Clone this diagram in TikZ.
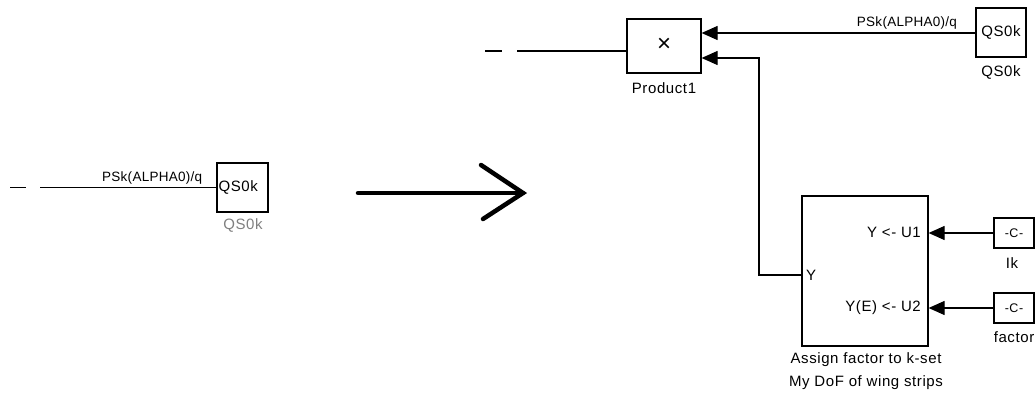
\documentclass[tikz,border=0pt]{standalone}
\usepackage{fontspec}
\setmainfont{Liberation Sans}
\newfontfamily\lblfont[LetterSpace=4]{Liberation Sans}
\newfontfamily\sigfont[LetterSpace=2]{Liberation Sans}
\usetikzlibrary{arrows.meta}
\tikzset{
  blk/.style={draw, line width=1.2pt, inner sep=0pt, font=\lblfont\fontsize{15}{17}\selectfont},
  lbl/.style={inner sep=0pt, font=\lblfont\fontsize{15}{17}\selectfont},
  sig/.style={inner sep=0pt, font=\sigfont\fontsize{13.5}{15}\selectfont},
  cst/.style={draw, line width=1.2pt, inner sep=0pt, font=\lblfont\fontsize{12.5}{14}\selectfont},
  wire/.style={line width=1.2pt},
  arr/.style={line width=1.2pt, -{Triangle[length=16pt,width=14pt]}},
  bigarrow/.style={line width=4.5pt, line cap=round, line join=miter}
}
\begin{document}
\begin{tikzpicture}[x=1pt,y=-1pt]
\useasboundingbox (0,0) rectangle (1036,393);
% ---- left: original block ----
\node[blk, minimum width=51pt, minimum height=49pt] (q0) at (242.5,187.5) {};
\node[lbl, anchor=west] (q0t) at ([xshift=2pt]q0.west) {QS0k};
\node[lbl, text=gray] (q0l) at (243,225) {QS0k};
\coordinate (d0a) at (10,187.5);
\coordinate (d0b) at (26,187.5);
\coordinate (l0) at (40,187.5);
\draw[wire] (d0a) -- (d0b);
\draw[wire] (l0) -- (q0.west) node[sig, midway, above=3pt, xshift=24pt] (p0) {PSk(ALPHA0)/q};
% ---- big arrow ----
\coordinate (ba) at (358,193);
\coordinate (bt) at (523,193);
\coordinate (bu) at (481,165);
\coordinate (bd) at (483,219);
\draw[bigarrow] (ba) -- (bt);
\draw[bigarrow] (bu) -- (bt) -- (bd);
% ---- right: product ----
\node[blk, minimum width=74pt, minimum height=54pt] (prod) at (664,46) {};
\node[inner sep=0pt, font=\fontsize{24}{26}\selectfont] (x) at (664,45) {×};
\node[lbl] (prodl) at (664,88) {Product1};
\coordinate (d1a) at (485,51);
\coordinate (d1b) at (502,51);
\coordinate (l1) at (517,51);
\draw[wire] (d1a) -- (d1b);
\draw[wire] (l1) -- (l1 -| prod.west);
% QS0k top right
\node[blk, minimum width=50pt, minimum height=49pt] (q1) at (1001,32.5) {QS0k};
\node[lbl] (q1l) at (1001,72) {QS0k};
\coordinate (p1in) at (prod.east |- 0,33);
\draw[arr] (q1.west |- 0,33) -- (p1in) node[sig, pos=0.25, above=3pt] (p1) {PSk(ALPHA0)/q};
% assign block
\node[blk, minimum width=126pt, minimum height=150pt] (asg) at (865,271) {};
\node[lbl, anchor=west] (asgy) at (806,275) {Y};
\node[lbl, anchor=east] (asgu1) at (921,232) {Y <- U1};
\node[lbl, anchor=east] (asgu2) at (921,308) {Y(E) <- U2};
\node[lbl] (asgl1) at (866,360) {Assign factor to k-set};
\node[lbl] (asgl2) at (866,383) {My DoF of wing strips};
\coordinate (yout) at (asg.west |- 0,275);
\coordinate (c1) at (759,275);
\coordinate (c2) at (759,58);
\draw[arr] (yout) -- (c1) -- (c2) -- (prod.east |- c2);
% constants
\node[cst, minimum width=40pt, minimum height=30pt] (ik) at (1014,233) {-C-};
\node[lbl] (ikl) at (1012,263) {Ik};
\node[cst, minimum width=40pt, minimum height=30pt] (fac) at (1014,308) {-C-};
\node[lbl] (facl) at (1014,337) {factor};
\draw[arr] (ik.west) -- (asg.east |- ik.west);
\draw[arr] (fac.west) -- (asg.east |- fac.west);
\end{tikzpicture}
\end{document}
